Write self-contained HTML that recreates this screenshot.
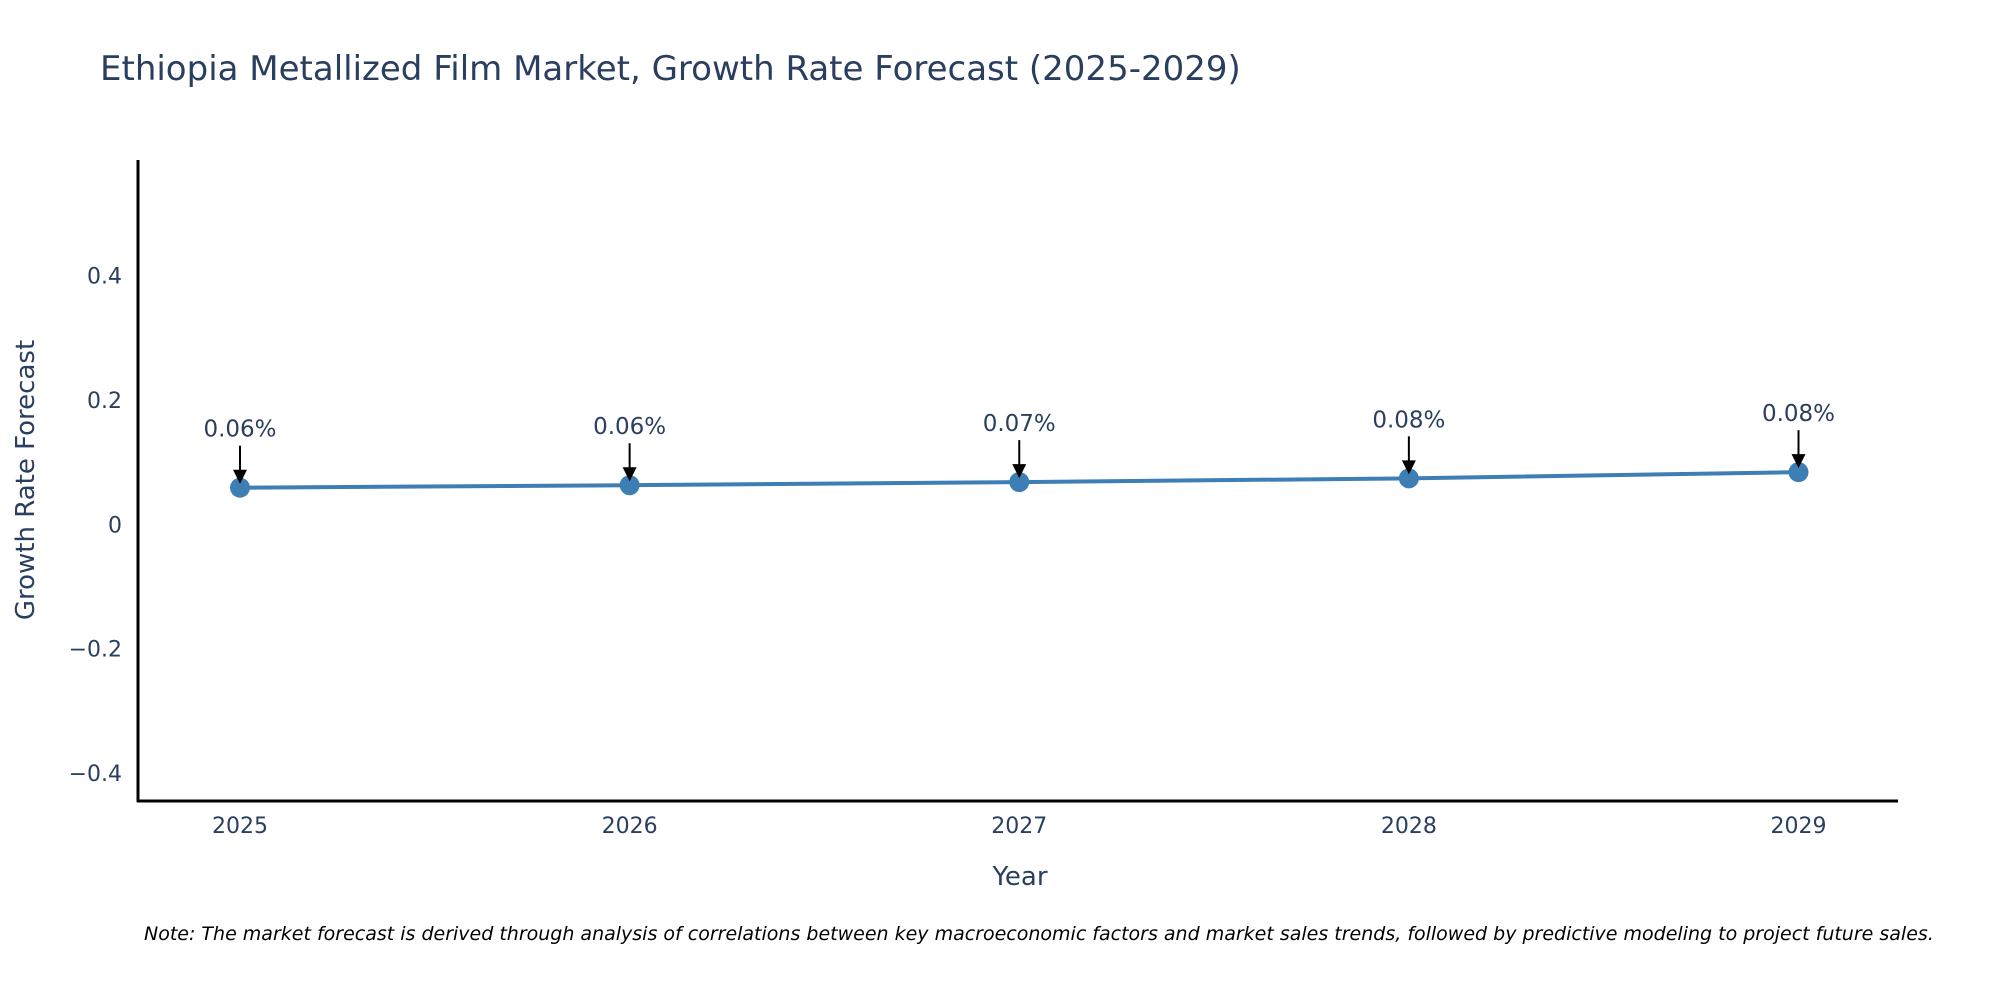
<!DOCTYPE html>
<html><head><meta charset="utf-8"><style>
body{margin:0;background:#fff;}
svg{display:block;font-family:"DejaVu Sans","Liberation Sans",sans-serif;}
</style></head><body>
<svg width="2000" height="1000" viewBox="0 0 2000 1000">
<text x="100" y="80" font-size="34" fill="#2a3f5f">Ethiopia Metallized Film Market, Growth Rate Forecast (2025-2029)</text>
<g id="yticks"></g>
<g id="xticks"></g>
<line x1="138" y1="160" x2="138" y2="802" stroke="#000" stroke-width="3"/>
<line x1="137" y1="801" x2="1898" y2="801" stroke="#000" stroke-width="3"/>
<g id="series"></g>
<text x="1020" y="885" font-size="26" fill="#2a3f5f" text-anchor="middle">Year</text>
<text transform="translate(34,480) rotate(-90)" font-size="26" fill="#2a3f5f" text-anchor="middle">Growth Rate Forecast</text>
<text x="144" y="940" font-size="19" font-style="italic" fill="#000">Note: The market forecast is derived through analysis of correlations between key macroeconomic factors and market sales trends, followed by predictive modeling to project future sales.</text>
</svg>
<script>
const years = ["2025","2026","2027","2028","2029"];
const growth = [0.059, 0.063, 0.068, 0.074, 0.084];
const labels = ["0.06%","0.06%","0.07%","0.08%","0.08%"];
const yTickVals = [-0.4,-0.2,0,0.2,0.4];
const yTickText = ["\u22120.4","\u22120.2","0","0.2","0.4"];

const NS="http://www.w3.org/2000/svg";
const yMin=-0.445, yMax=0.585, plotTop=160.7, plotBot=801;
function yS(v){return plotBot-(v-yMin)/(yMax-yMin)*(plotBot-plotTop);}
function xS(i){return 240+i*(1798.5-240)/(years.length-1);}
function mk(tag,attrs,parent){const e=document.createElementNS(NS,tag);for(const k in attrs)e.setAttribute(k,attrs[k]);parent.appendChild(e);return e;}

const yt=document.getElementById('yticks');
yTickVals.forEach((v,i)=>{
  const t=mk('text',{x:122,y:yS(v)+8,'font-size':22,fill:'#2a3f5f','text-anchor':'end'},yt);
  
  
  t.textContent=yTickText[i];
});
const xt=document.getElementById('xticks');
years.forEach((y,i)=>{
  const t=mk('text',{x:xS(i),y:833,'font-size':22,fill:'#2a3f5f','text-anchor':'middle'},xt);
  
  
  t.textContent=y;
});
const s=document.getElementById('series');
const pl=mk('polyline',{points:growth.map((v,i)=>xS(i)+','+yS(v)).join(' '),fill:'none',stroke:'#3d7fb4','stroke-width':4},s);


growth.forEach((v,i)=>{
  const x=xS(i), y=yS(v);
  const c=mk('circle',{cx:x,cy:y,r:10,fill:'#3d7fb4'},s);
  
  
  const ln=mk('line',{x1:x,y1:y-42,x2:x,y2:y-14,stroke:'#000','stroke-width':2},s);
  
  
  const ah=mk('polygon',{points:`${x-7},${y-18} ${x+7},${y-18} ${x},${y-4}`,fill:'#000'},s);
  
  
  const t=mk('text',{x:x,y:y-51,'font-size':23,fill:'#2a3f5f','text-anchor':'middle'},s);
  
  
  t.textContent=labels[i];
});
</script>
</body></html>
